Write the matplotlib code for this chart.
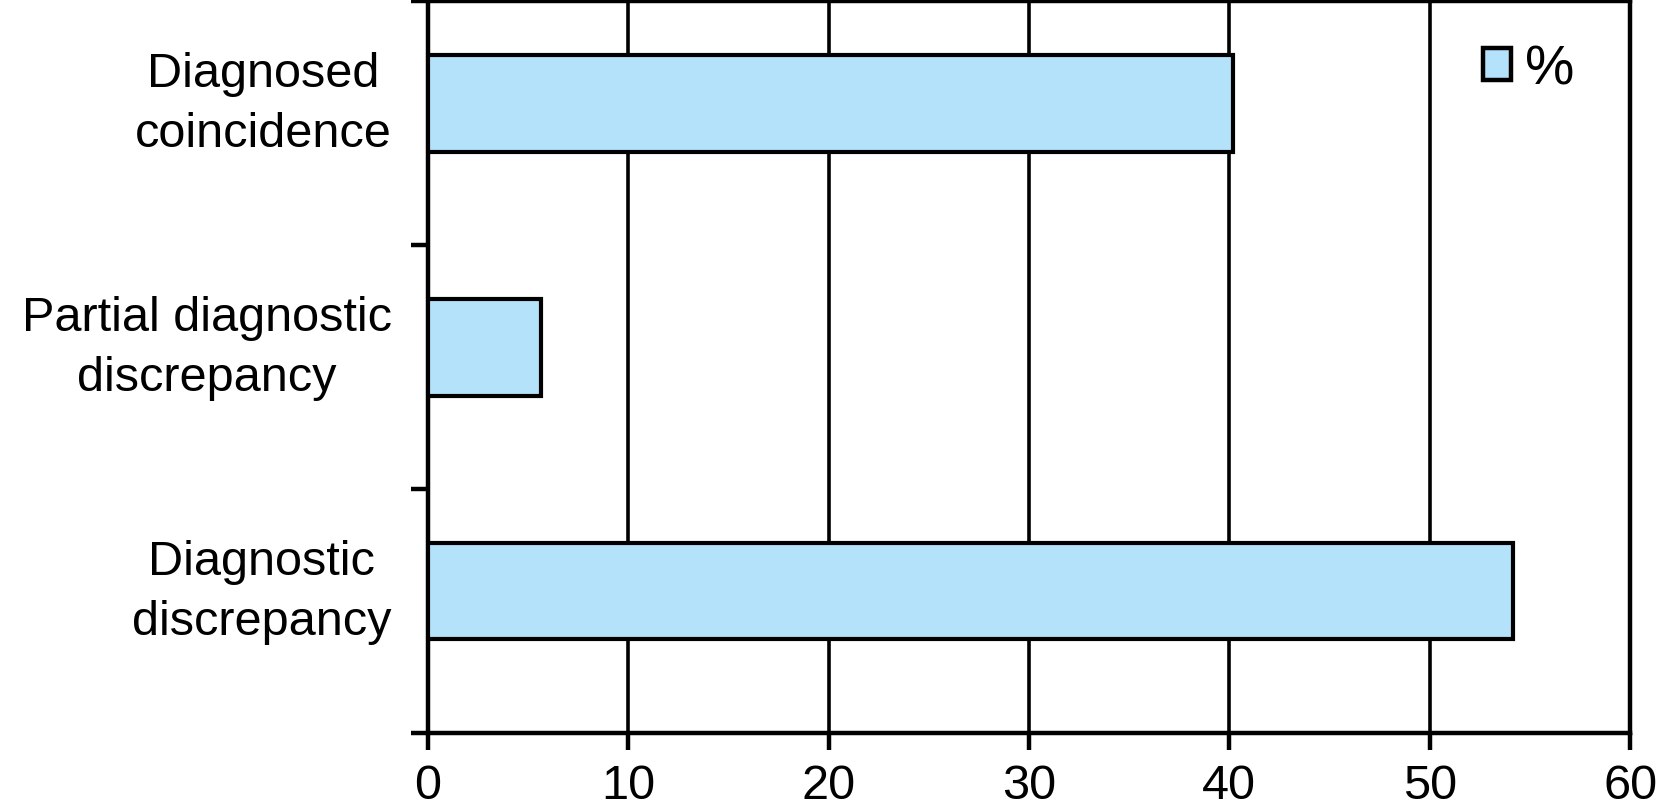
import matplotlib.pyplot as plt
import matplotlib.patches as mpatches
import numpy as np

plt.rcParams["font.family"] = ["Liberation Sans", "DejaVu Sans"]

categories = ["Diagnosed\ncoincidence", "Partial diagnostic\ndiscrepancy", "Diagnostic\ndiscrepancy"]
values = [40.2, 5.65, 54.15]
x_ticks = [0, 10, 20, 30, 40, 50, 60]
series_name = "%"

bar_color = "#b4e2fa"
pos = np.arange(len(categories))
offset = -0.08

fig = plt.figure(figsize=(16.6, 8.12), dpi=100)
ax = fig.add_axes([0.2577, 0.0964, 0.982 - 0.2577, 0.9975 - 0.0964])

ax.barh(pos + offset, values, height=0.395, color=bar_color, edgecolor="black",
        linewidth=3, zorder=3)

ax.set_xlim(0, 60)
ax.set_ylim(2.5, -0.5)
ax.set_xticks(x_ticks)
ax.set_xticklabels([str(t) for t in x_ticks])
ax.xaxis.grid(True, color="black", linewidth=2.6, zorder=1)
ax.set_axisbelow(True)

# labels at bar centres, boundary ticks at category edges
ax.set_yticks(pos + offset)
ax.set_yticklabels(categories, multialignment="center", linespacing=1.42, va="center")
ax.set_yticks(np.arange(len(categories) + 1) - 0.5, minor=True)
ax.tick_params(axis="y", which="major", length=0, pad=26, labelsize=35)
ax.tick_params(axis="y", which="minor", length=12, width=3.2, direction="out")
ax.tick_params(axis="x", length=12, width=3.2, direction="out", pad=10, labelsize=35)

for s in ax.spines.values():
    s.set_linewidth(3.2)

handle = mpatches.Patch(facecolor=bar_color, edgecolor="black", linewidth=3.2, label=series_name)
ax.legend(handles=[handle], loc="upper right", bbox_to_anchor=(0.995, 1.01), frameon=False,
          fontsize=40, handlelength=0.5, handleheight=0.5, handletextpad=0.25)

fig.savefig("out.png", dpi=100)
